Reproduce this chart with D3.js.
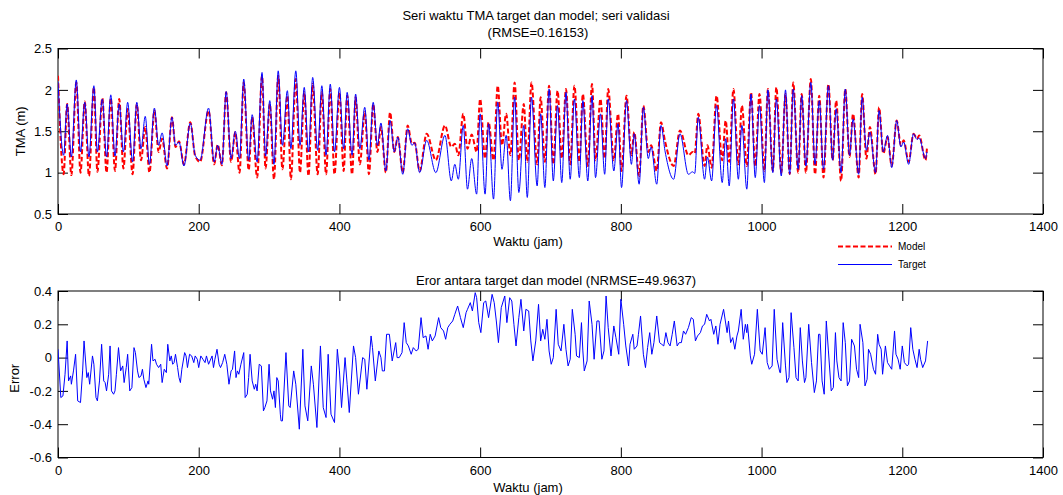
<!DOCTYPE html>
<html lang="en">
<head>
<meta charset="UTF-8">
<script src="https://cdnjs.cloudflare.com/ajax/libs/d3/7.8.5/d3.min.js"></script>
<style>
  body { margin: 0; background: #fff; }
  svg { display: block; font-family: "Liberation Sans", Arial, sans-serif; }
</style>
</head>
<body>
<div id="chart"></div>
<script>
// hours of the turning points
var tideHours = [0,8,13,19,26,32,38,44,51,56,63,69,75,81,87,93,99,106,112,118,124,130,137,143,148,155,162,167,172,179,188,195,202,214,222,227,233,239,246,252,258,264,271,276,283,290,295,301,307,313,
  319,326,331,338,344,350,356,362,369,375,381,387,393,400,406,411,418,423,429,436,442,448,454,459,466,472,478,483,490,497,503,507,514,524,537,550,559,564,569,576,582,588,595,600,607,612,619,625,
  631,637,643,649,655,662,667,673,681,686,692,698,704,710,716,722,728,734,741,746,753,759,764,771,777,782,790,796,801,808,815,819,826,832,839,843,851,857,863,875,884,896,902,905,910,919,923,929,936,
  944,949,954,960,967,972,979,985,991,997,1004,1009,1016,1021,1028,1034,1040,1045,1052,1057,1063,1070,1076,1082,1088,1095,1101,1106,1113,1119,1125,1130,1138,1143,1149,1154,1162,1167,1173,1179,1185,1192,1198,1202,1209,1216,1221,1224,1233,1235];

var targetLevel = [2.10,1.21,1.83,1.19,2.12,1.25,1.85,1.19,2.05,1.25,1.89,1.19,1.94,1.20,1.83,1.25,1.85,1.13,1.85,1.29,1.68,1.10,1.78,1.33,1.48,1.08,1.67,1.33,1.37,1.08,1.60,1.21,1.15,1.78,1.13,1.33,1.10,1.98,1.17,1.50,1.17,2.13,1.15,1.70,1.13,2.21,1.20,1.87,1.10,2.23,
  1.33,1.99,1.29,2.23,1.33,2.03,1.25,2.15,1.27,2.05,1.21,2.07,1.25,2.03,1.29,1.97,1.21,1.95,1.29,1.79,1.15,1.85,1.33,1.60,1.02,1.63,1.25,1.43,0.98,1.53,1.33,1.36,1.00,1.39,1.00,1.45,0.90,1.10,0.92,1.57,0.80,1.17,0.74,1.71,0.74,1.59,0.68,1.85,
  1.04,1.45,0.66,1.91,0.76,1.57,0.70,1.91,0.84,1.71,0.82,2.01,0.90,1.81,0.88,1.97,0.92,1.89,0.94,1.87,0.90,1.93,0.94,1.71,0.98,1.89,1.02,1.59,0.82,1.87,1.10,1.47,0.86,1.79,1.17,1.31,0.86,1.57,1.25,0.92,1.47,0.98,1.01,0.99,1.67,0.92,1.19,0.90,1.81,
  0.88,1.41,0.84,1.89,0.92,1.57,0.80,1.95,0.94,1.81,0.88,2.00,1.00,1.89,0.96,2.00,0.98,2.01,1.04,1.93,1.08,2.09,1.10,1.87,1.04,2.05,1.15,1.77,1.00,2.01,1.21,1.65,0.98,1.91,1.27,1.49,1.00,1.75,1.25,1.45,1.06,1.63,1.31,1.37,1.10,1.47,1.40,1.42,1.17,1.25];

var modelLevel = [2.17,0.98,1.83,0.97,2.09,1.00,1.86,0.96,2.03,1.01,1.90,1.00,1.90,1.02,1.89,1.05,1.77,0.98,1.83,1.15,1.55,1.00,1.75,1.25,1.41,1.05,1.67,1.31,1.38,1.10,1.61,1.20,1.13,1.75,1.10,1.34,1.09,1.97,1.13,1.49,1.00,2.09,1.03,1.67,0.94,2.17,1.05,1.83,0.92,2.17,
  1.04,1.93,0.92,2.13,1.00,1.97,0.96,2.07,0.98,1.97,0.98,2.01,0.98,1.97,1.02,1.93,0.98,1.91,1.10,1.73,0.98,1.83,1.25,1.55,1.00,1.73,1.25,1.43,1.00,1.57,1.35,1.36,1.02,1.47,1.15,1.57,1.31,1.35,1.21,1.71,1.29,1.46,1.25,1.89,1.17,1.61,1.15,2.05,
  1.33,1.71,1.21,2.09,1.15,1.83,1.13,2.09,1.10,1.91,1.13,2.05,1.10,1.99,1.17,2.01,1.10,2.05,1.13,1.95,1.08,2.07,1.15,1.89,1.17,2.01,1.15,1.71,1.02,1.93,1.21,1.49,0.96,1.81,1.25,1.33,1.02,1.61,1.37,1.08,1.51,1.21,1.25,1.23,1.71,1.08,1.33,1.06,1.93,
  1.15,1.63,1.13,2.01,1.10,1.81,1.08,1.97,1.08,1.95,1.02,2.01,1.02,2.03,1.00,1.95,0.98,2.09,1.00,1.95,1.00,2.13,0.98,1.93,0.94,2.07,1.15,1.87,0.90,2.01,1.19,1.71,0.94,1.95,1.17,1.55,0.98,1.79,1.23,1.43,1.08,1.63,1.33,1.39,1.13,1.47,1.41,1.45,1.15,1.29];

// [hour, error]
var errorSeries = [[0,0.05],[4,-0.24],[7,-0.23],[10,-0.10],[13,0.10],[15,-0.14],[18,-0.11],[19,-0.16],[22,-0.08],[25,0.02],[28,-0.26],[32,-0.27],[35,-0.08],[37,0.10],[41,-0.12],[43,-0.09],[45,-0.16],[49,0.01],[51,-0.04],[54,-0.24],[56,-0.26],[59,-0.14],[62,0.08],[65,-0.14],[67,-0.15],[69,-0.20],[72,-0.10],[74,0.07],[76,-0.20],[79,-0.22],[81,-0.20],[83,-0.10],[86,0.06],[89,-0.08],[92,-0.05],[94,-0.15],[97,-0.06],[99,0.02],[102,-0.20],[105,-0.18],[108,0.06],[110,0.03],[113,-0.08],[115,-0.12],[118,-0.11],[120,-0.07],[122,-0.13],[125,-0.18],[128,-0.14],[129,-0.16],[133,0.08],[135,-0.02],[138,-0.01],[140,-0.04],[143,-0.06],[146,-0.04],[148,-0.15],[151,-0.07],[154,-0.09],[156,0.08],[159,-0.02],[161,0.01],[163,-0.04],[165,-0.03],[167,0.02],[170,-0.06],[172,-0.12],[174,-0.15],[176,-0.07],[180,0.03],[182,0.01],[184,-0.06],[187,0.02],[190,0.01],[193,-0.03],[195,0.01],[198,-0.01],[200,-0.06],[203,0.01],[206,-0.01],[209,-0.03],[211,0.01],[214,-0.04],[216,-0.02],[219,0.01],[221,-0.06],[223,-0.01],[226,0.05],[229,-0.04],[231,-0.06],[234,-0.03],[237,0.02],[240,-0.04],[243,-0.16],[246,-0.08],[248,-0.07],[251,0.04],[253,-0.12],[255,-0.08],[257,-0.10],[260,-0.04],[264,0.03],[266,-0.24],[269,-0.22],[271,-0.12],[273,0.02],[276,-0.14],[279,-0.19],[281,-0.16],[283,-0.20],[286,-0.04],[289,-0.05],[292,-0.32],[294,-0.30],[297,-0.26],[300,-0.04],[302,-0.20],[305,-0.25],[307,-0.20],[309,-0.30],[311,-0.12],[313,-0.14],[316,-0.34],
  [317,-0.38],[319,-0.38],[324,0.03],[328,-0.29],[330,-0.30],[335,-0.08],[338,-0.16],[343,-0.43],[348,0.05],[351,-0.29],[355,-0.38],[360,-0.05],[363,-0.16],[368,-0.42],[373,0.07],[377,-0.30],[381,-0.36],[384,0.02],[388,-0.34],[393,-0.39],[397,0.05],[400,-0.08],[403,-0.30],[408,0.00],[411,-0.16],[414,-0.33],[420,0.07],[423,0.00],[427,-0.22],[433,0.00],[436,-0.01],[439,-0.19],[445,0.13],[447,0.06],[451,-0.14],[456,0.04],[459,0.00],[461,-0.08],[464,-0.08],[467,0.14],[471,0.14],[475,-0.02],[480,0.09],[482,0.00],[485,0.00],[489,0.03],[492,0.21],[495,0.09],[498,0.07],[502,0.02],[505,0.06],[509,0.04],[512,0.05],[516,0.24],[519,0.12],[523,0.13],[526,0.05],[529,0.14],[532,0.10],[536,0.13],[541,0.24],[544,0.18],[548,0.16],[551,0.11],[554,0.18],[557,0.20],[561,0.22],[564,0.26],[568,0.31],[572,0.24],[576,0.18],[580,0.27],[582,0.29],[586,0.33],[589,0.28],[593,0.39],[595,0.36],[598,0.21],[601,0.15],[605,0.33],[608,0.34],[612,0.24],[617,0.38],[620,0.33],[623,0.22],[626,0.09],
  [630,0.30],[635,0.37],[638,0.21],[642,0.36],[645,0.34],[648,0.20],[651,0.07],[655,0.24],[658,0.35],[662,0.16],[665,0.29],[669,0.28],[672,0.10],[675,-0.02],[679,0.10],[683,0.32],[686,0.10],[689,0.17],[692,0.11],[695,0.23],[698,0.04],[701,-0.04],[704,0.00],[708,0.29],[711,0.08],[715,0.04],[719,0.20],[722,0.05],[725,-0.05],[728,-0.01],[731,0.29],[735,0.14],[737,0.01],[741,0.00],[744,0.21],[746,0.04],[748,-0.08],[752,-0.02],[755,0.34],[759,0.20],[762,-0.01],[766,0.22],[769,0.22],[773,-0.01],[776,0.04],[779,0.37],[782,0.18],[786,0.01],[790,0.19],[793,0.12],[797,0.02],[800,0.35],[804,0.20],[807,0.07],[811,-0.05],[813,0.08],[817,0.14],[819,0.05],[823,0.07],[825,0.14],[828,0.25],[832,0.02],[835,-0.06],[838,0.06],[841,0.15],[844,0.02],[847,0.09],[851,0.25],[855,0.09],[858,0.08],[861,0.07],[864,0.15],[867,0.09],[870,0.07],[873,0.14],[876,0.22],[880,0.07],[883,0.09],[886,0.09],[889,0.16],[892,0.14],[896,0.18],[900,0.24],[903,0.23],[906,0.10],[909,0.13],[913,0.15],[916,0.19],[919,0.20],[922,0.26],[926,0.22],[928,0.23],[932,0.14],[935,0.19],[938,0.08],
  [941,0.20],[946,0.29],[951,0.15],[953,0.22],[956,0.09],[959,0.12],[962,0.05],[965,0.13],[967,0.16],[971,0.29],[974,0.11],[977,0.20],[979,0.15],[980,0.20],[984,0.01],[986,-0.04],[990,0.02],[994,0.29],[998,0.04],[1001,0.02],[1005,0.18],[1008,-0.03],[1011,-0.07],[1015,-0.05],[1018,0.29],[1022,-0.01],[1026,-0.09],[1027,-0.09],[1030,0.21],[1034,-0.05],[1036,-0.15],[1039,-0.12],[1042,0.27],[1046,0.06],[1049,-0.12],[1052,-0.14],[1055,0.18],[1058,-0.02],[1061,-0.15],[1063,-0.12],[1067,0.20],[1071,-0.03],[1075,-0.21],[1078,-0.14],[1081,0.14],[1083,0.14],[1086,-0.14],[1089,-0.22],[1092,0.22],[1095,0.04],[1099,-0.20],[1102,-0.18],[1105,0.15],[1107,-0.02],[1110,-0.12],[1113,-0.14],[1116,0.21],[1119,0.09],[1122,-0.17],[1125,-0.14],[1128,0.11],[1132,0.07],[1135,-0.07],[1138,-0.12],[1140,0.20],[1144,0.09],[1147,-0.17],[1150,-0.13],[1152,0.05],[1155,0.02],[1159,-0.07],[1162,-0.10],[1165,0.14],[1167,0.08],[1170,0.05],[1172,-0.10],[1176,0.07],[1179,-0.03],[1182,-0.05],[1185,-0.07],[1189,0.16],[1191,0.02],[1194,-0.01],[1197,-0.07],[1200,0.07],[1203,-0.03],[1207,-0.05],[1209,-0.04],[1212,0.18],[1215,0.05],[1218,-0.01],[1221,-0.06],[1224,0.05],[1226,-0.01],[1229,-0.06],[1233,-0.02],[1236,0.10]];

var hourTicks = [0, 200, 400, 600, 800, 1000, 1200, 1400];
var levelTicks = [0.5, 1, 1.5, 2, 2.5];
var errorTicks = [-0.6, -0.4, -0.2, 0, 0.2, 0.4];
var legendNames = ["Model", "Target"];

var W = 1063, H = 495;
var left = 58, right = 1043;
var top1 = 48.5, bot1 = 214;
var top2 = 291, bot2 = 457.5;
var fontSize = 13;

var svg = d3.select("#chart").append("svg")
    .attr("width", W)
    .attr("height", H);

var x = d3.scaleLinear().domain([0, 1400]).range([left, right]);
var yLevel = d3.scaleLinear().domain([0.5, 2.5]).range([bot1, top1]);
var yErr = d3.scaleLinear().domain([-0.6, 0.4]).range([bot2, top2]);

function drawFrame(y, yTicks, yTop, yBot, name) {
    var g = svg.append("g");

    // inward ticks on all four sides, like the matlab box
    g.append("g")
        .attr("transform", "translate(0," + yBot + ")")
        .call(d3.axisBottom(x).tickValues(hourTicks).tickSizeInner(-10).tickSizeOuter(0).tickPadding(8)
            .tickFormat(function (d) { return String(d); }));
    g.append("g")
        .attr("transform", "translate(0," + yTop + ")")
        .call(d3.axisTop(x).tickValues(hourTicks).tickSizeInner(-10).tickSizeOuter(0).tickFormat(""));
    g.append("g")
        .attr("transform", "translate(" + left + ",0)")
        .call(d3.axisLeft(y).tickValues(yTicks).tickSizeInner(-10).tickSizeOuter(0).tickPadding(6)
            .tickFormat(function (d) { return String(d); }));
    g.append("g")
        .attr("transform", "translate(" + right + ",0)")
        .call(d3.axisRight(y).tickValues(yTicks).tickSizeInner(-10).tickSizeOuter(0).tickFormat(""));

    g.selectAll(".domain").remove();
    g.selectAll(".tick line").attr("stroke", "#000").attr("stroke-width", 1);
    g.selectAll(".tick text")
        .attr("fill", "#000")
        .style("font-size", fontSize + "px")
        .style("font-family", '"Liberation Sans", Arial, sans-serif');

    g.append("rect")
        .attr("x", left)
        .attr("y", yTop)
        .attr("width", right - left)
        .attr("height", yBot - yTop)
        .attr("fill", "none")
        .attr("stroke", "#000")
        .attr("stroke-width", 1);

    svg.append("defs").append("clipPath").attr("id", name)
        .append("rect")
        .attr("x", left).attr("y", yTop)
        .attr("width", right - left).attr("height", yBot - yTop);
}

drawFrame(yLevel, levelTicks, top1, bot1, "clipTop");
drawFrame(yErr, errorTicks, top2, bot2, "clipBot");

// upper panel: model (dashed red) under target (blue)
var tideIdx = d3.range(tideHours.length);

var modelLine = d3.line()
    .x(function (i) { return x(tideHours[i]); })
    .y(function (i) { return yLevel(modelLevel[i]); })
    .curve(d3.curveMonotoneX);

var targetLine = d3.line()
    .x(function (i) { return x(tideHours[i]); })
    .y(function (i) { return yLevel(targetLevel[i]); })
    .curve(d3.curveMonotoneX);

svg.append("path")
    .attr("clip-path", "url(#clipTop)")
    .attr("d", modelLine(tideIdx))
    .attr("fill", "none")
    .attr("stroke", "#ff0000")
    .attr("stroke-width", 2)
    .attr("stroke-dasharray", "5,2.5");

svg.append("path")
    .attr("clip-path", "url(#clipTop)")
    .attr("d", targetLine(tideIdx))
    .attr("fill", "none")
    .attr("stroke", "#0000ff")
    .attr("stroke-width", 1);

// lower panel: error
var errLine = d3.line()
    .x(function (d) { return x(d[0]); })
    .y(function (d) { return yErr(d[1]); });

svg.append("path")
    .attr("clip-path", "url(#clipBot)")
    .attr("d", errLine(errorSeries))
    .attr("fill", "none")
    .attr("stroke", "#0000ff")
    .attr("stroke-width", 1);

// titles and labels
var txt = function (s, px, py, anchor) {
    return svg.append("text")
        .attr("x", px)
        .attr("y", py)
        .attr("text-anchor", anchor || "middle")
        .style("font-size", fontSize + "px")
        .attr("fill", "#000")
        .text(s);
};

txt("Seri waktu TMA target dan model; seri validasi", 536, 19.5);
txt("(RMSE=0.16153)", 538, 37);
txt("Waktu (jam)", 528, 245.5);
txt("Eror antara target dan model (NRMSE=49.9637)", 556, 284.5);
txt("Waktu (jam)", 528, 491.5);

svg.append("text")
    .attr("transform", "translate(24.5," + ((top1 + bot1) / 2) + ") rotate(-90)")
    .attr("text-anchor", "middle")
    .style("font-size", fontSize + "px")
    .text("TMA (m)");

svg.append("text")
    .attr("transform", "translate(18.5," + ((top2 + bot2) / 2 + 4) + ") rotate(-90)")
    .attr("text-anchor", "middle")
    .style("font-size", fontSize + "px")
    .text("Error");

// legend, no box
var legend = svg.append("g").attr("transform", "translate(838,246.5)");
var legendStyles = [
    {stroke: "#ff0000", width: 2, dash: "5,2.5"},
    {stroke: "#0000ff", width: 1, dash: null}
];
legendNames.forEach(function (name, i) {
    var row = legend.append("g").attr("transform", "translate(0," + (i * 18) + ")");
    row.append("line")
        .attr("x1", 0).attr("x2", 54)
        .attr("y1", 0).attr("y2", 0)
        .attr("stroke", legendStyles[i].stroke)
        .attr("stroke-width", legendStyles[i].width)
        .attr("stroke-dasharray", legendStyles[i].dash);
    row.append("text")
        .attr("x", 60)
        .attr("y", 0)
        .attr("dy", "0.35em")
        .style("font-size", "10px")
        .text(name);
});
</script>
</body>
</html>
